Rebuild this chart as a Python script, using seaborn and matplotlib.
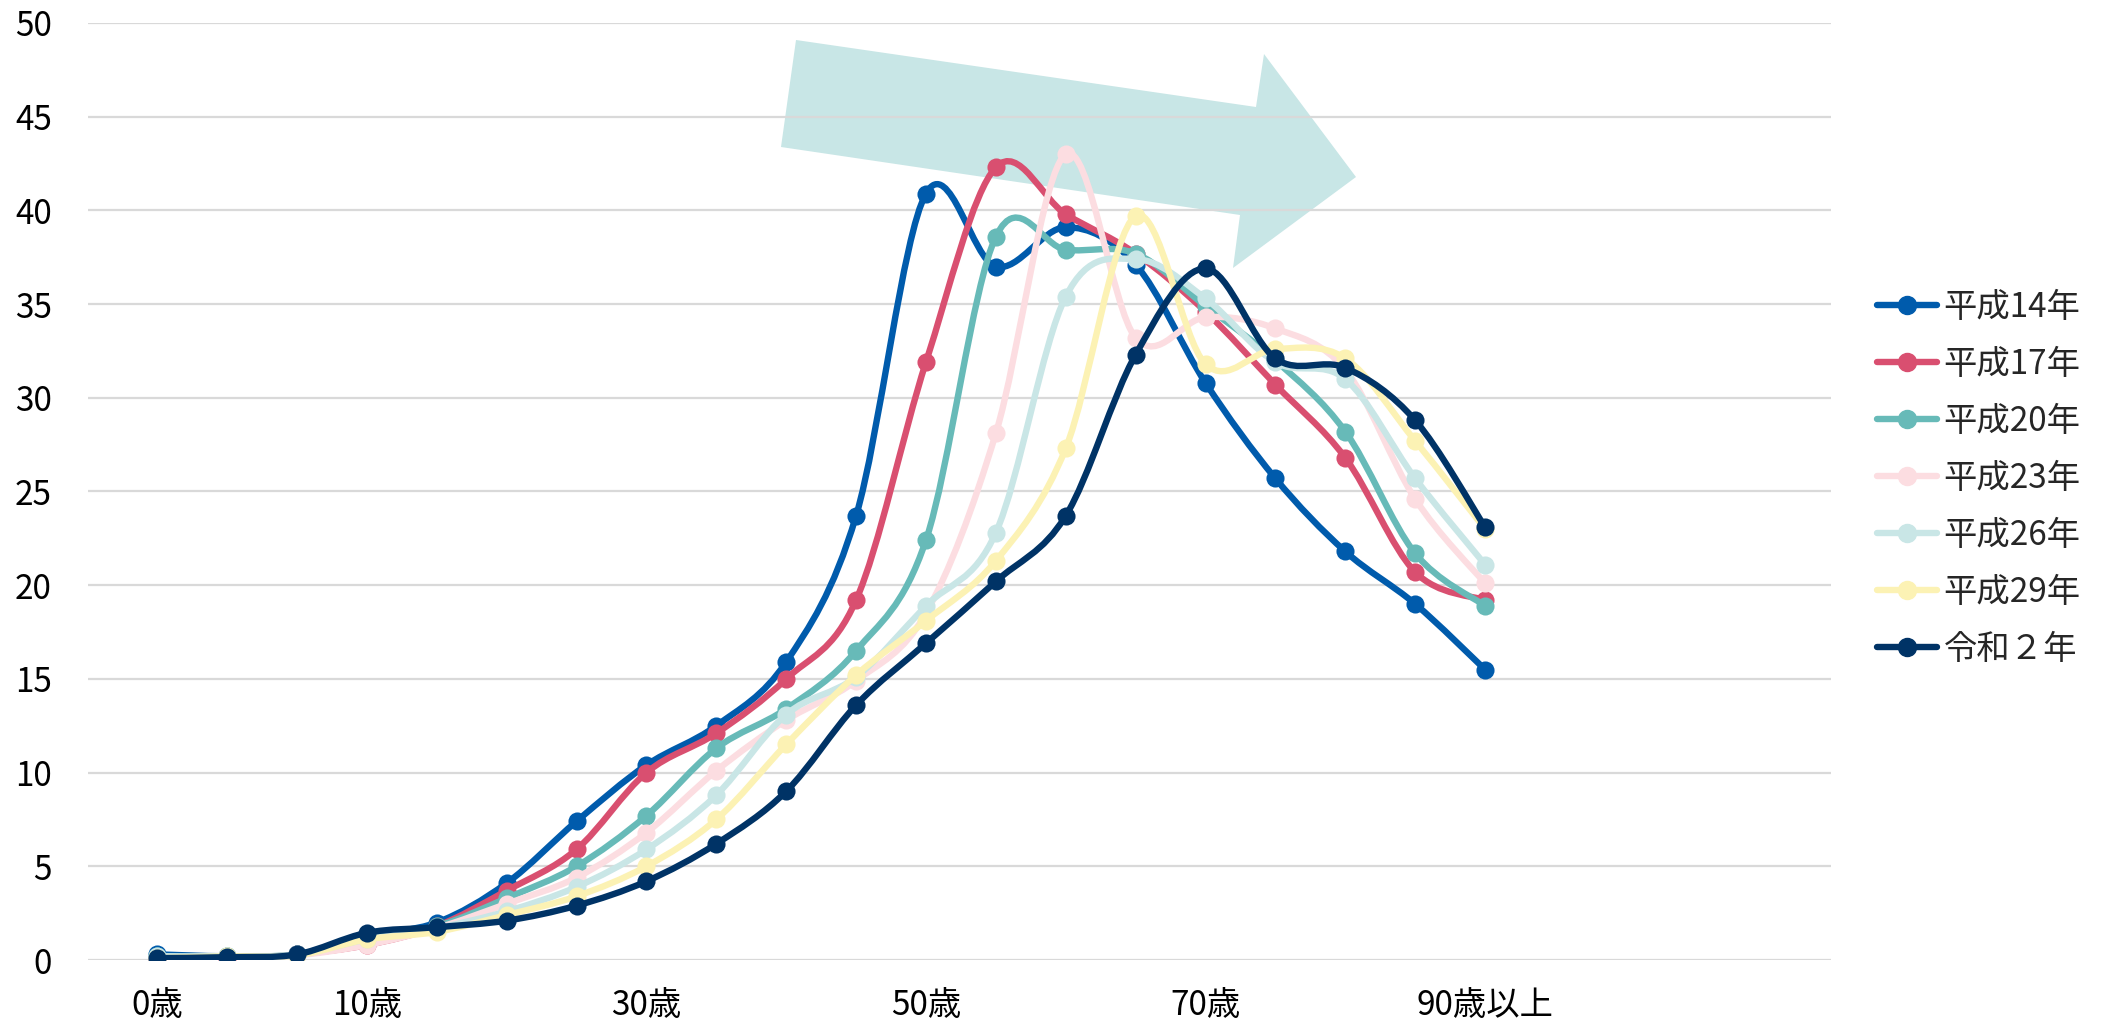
import numpy as np
import pandas as pd
import matplotlib
matplotlib.use("Agg")
import matplotlib.pyplot as plt
from matplotlib.path import Path
from matplotlib.patches import PathPatch, Polygon
from matplotlib.lines import Line2D
import seaborn as sns

# --- DATA ---
age_labels = ['0歳', '', '', '10歳', '', '', '', '30歳', '', '', '',
              '50歳', '', '', '', '70歳', '', '', '', '90歳以上']
series_names = ['平成14年', '平成17年', '平成20年', '平成23年', '平成26年', '平成29年', '令和２年']

h14 = [0.3, 0.2, 0.3, 1.3, 2.0, 4.1, 7.4, 10.4, 12.5, 15.9, 23.7, 40.9, 37.0, 39.1, 37.1, 30.8, 25.7, 21.8, 19.0, 15.5]
h17 = [0.1, 0.05, 0.3, 0.8, 1.8, 3.7, 5.9, 10.0, 12.1, 15.0, 19.2, 31.9, 42.3, 39.8, 37.7, 34.6, 30.7, 26.8, 20.7, 19.2]
h20 = [0.2, 0.2, 0.3, 1.2, 1.8, 3.3, 5.0, 7.7, 11.3, 13.4, 16.5, 22.4, 38.6, 37.9, 37.7, 34.9, 32.0, 28.2, 21.7, 18.9]
h23 = [0.1, 0.1, 0.25, 0.8, 1.7, 3.0, 4.4, 6.8, 10.1, 12.8, 14.9, 18.5, 28.1, 43.0, 33.2, 34.3, 33.7, 31.5, 24.6, 20.1]
h26 = [0.2, 0.2, 0.3, 1.1, 1.7, 2.6, 3.9, 5.9, 8.8, 13.1, 15.1, 18.9, 22.8, 35.4, 37.4, 35.3, 31.9, 31.0, 25.7, 21.1]
h29 = [0.1, 0.2, 0.25, 1.1, 1.5, 2.4, 3.4, 5.0, 7.5, 11.5, 15.2, 18.1, 21.3, 27.3, 39.7, 31.8, 32.6, 32.1, 27.7, 23.0]
r2 = [0.1, 0.15, 0.3, 1.45, 1.75, 2.1, 2.9, 4.2, 6.2, 9.0, 13.6, 16.9, 20.2, 23.7, 32.3, 36.9, 32.1, 31.6, 28.8, 23.1]

colors = ['#005BAC', '#D94F70', '#67BAB8', '#FCDDE1', '#C9E6E6', '#FCF2B4', '#003366']

all_values = [h14, h17, h20, h23, h26, h29, r2]
df = pd.DataFrame({
    'pos': np.tile(np.arange(len(age_labels)), len(series_names)),
    'value': np.concatenate(all_values),
    'year': np.repeat(series_names, len(age_labels)),
})

# --- STYLE ---
sns.set_theme(style='white')
plt.rcParams['font.family'] = ['Noto Sans CJK JP', 'DejaVu Sans']

fig = plt.figure(figsize=(21.03, 10.29), dpi=100)
ax = fig.add_axes([88 / 2103, 1 - 960 / 1029, (1831 - 88) / 2103, (960 - 23) / 1029])


def smooth_path(xs, ys):
    # bezier segments through the points (like Excel's smoothed line)
    pts = np.column_stack([xs, ys]).astype(float)
    n = len(pts)
    verts = [pts[0]]
    codes = [Path.MOVETO]
    for i in range(n - 1):
        p0 = pts[max(i - 1, 0)]
        p1 = pts[i]
        p2 = pts[i + 1]
        p3 = pts[min(i + 2, n - 1)]
        c1 = p1 + (p2 - p0) / 6.0
        c2 = p2 - (p3 - p1) / 6.0
        verts += [c1, c2, p2]
        codes += [Path.CURVE4] * 3
    return Path(verts, codes)


# decorative arrow (behind the lines)
arrow_px = [(796, 40), (1256, 107), (1264, 54), (1356, 177),
            (1233, 268), (1240, 215), (781, 147)]
arrow_fig = [(x / 2103, 1 - y / 1029) for x, y in arrow_px]
ax.add_patch(Polygon(arrow_fig, closed=True, transform=fig.transFigure,
                     facecolor='#C8E6E6', edgecolor='none', zorder=0.2, clip_on=False))

for i, (name, col) in enumerate(zip(series_names, colors)):
    sub = df[df['year'] == name]
    ax.add_patch(PathPatch(smooth_path(sub['pos'], sub['value']), facecolor='none',
                           edgecolor=col, lw=4.6, capstyle='round', joinstyle='round',
                           zorder=2 + i))
    sns.scatterplot(data=sub, x='pos', y='value', color=col, s=170, edgecolor=col,
                    linewidth=0, ax=ax, zorder=2.5 + i, legend=False)

ax.set_xlim(-0.99, 23.95)
ax.set_ylim(0, 50)
ax.set_yticks(np.arange(0, 51, 5))
tick_pos = [i for i, lab in enumerate(age_labels) if lab]
ax.set_xticks(tick_pos)
ax.set_xticklabels([age_labels[i] for i in tick_pos])
ax.set_xlabel('')
ax.set_ylabel('')
ax.grid(axis='y', color='#D9D9D9', lw=1.6)
ax.grid(axis='x', visible=False)
ax.set_axisbelow(True)
for s in ax.spines.values():
    s.set_visible(False)
ax.tick_params(axis='both', length=0, labelsize=24, colors='black')
ax.tick_params(axis='y', pad=26)
ax.tick_params(axis='x', pad=20)

handles = [Line2D([0], [0], color=c, lw=4.6, marker='o', markersize=13) for c in colors]
fig.legend(handles, series_names, loc='upper left', bbox_to_anchor=(1877 / 2103, 1 - 290 / 1029),
           frameon=False, fontsize=24, handlelength=1.8, handletextpad=0.2,
           labelspacing=0.66, borderpad=0, borderaxespad=0)

fig.savefig('out.png', dpi=100, facecolor='white')
